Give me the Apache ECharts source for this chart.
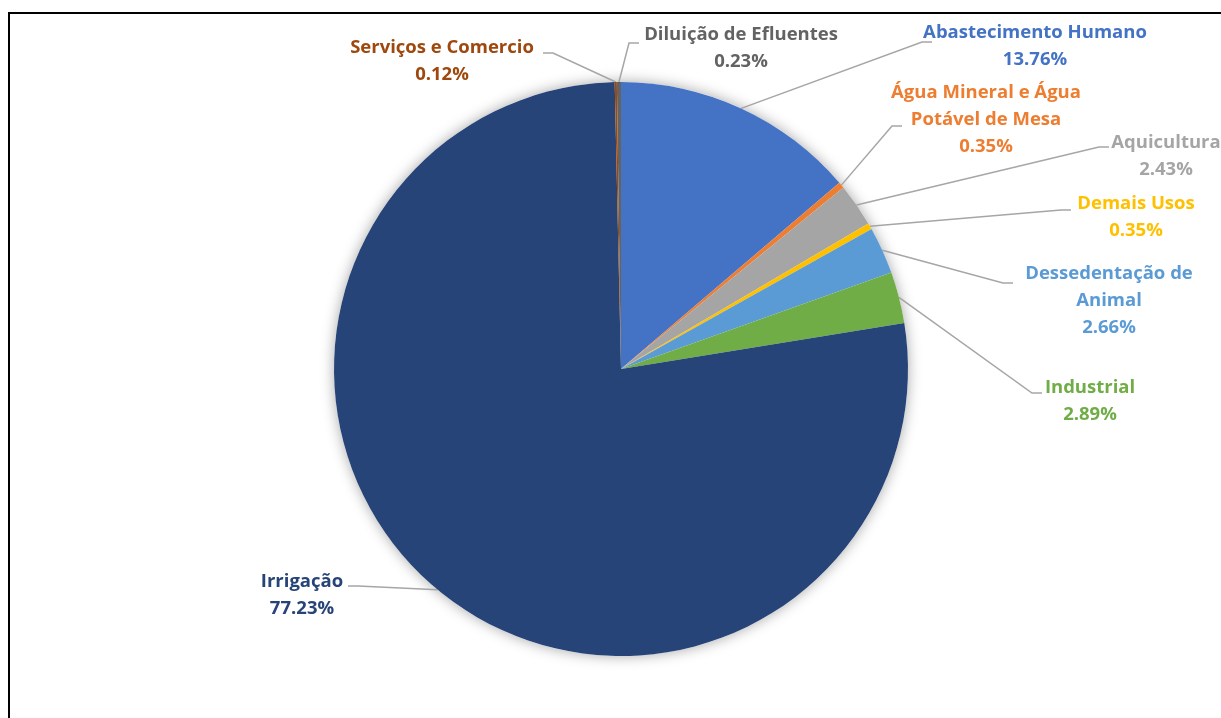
<!DOCTYPE html>
<html>
<head>
<meta charset="utf-8">
<script src="https://cdn.jsdelivr.net/npm/echarts@6/dist/echarts.min.js"></script>
<style>
  html, body { margin: 0; padding: 0; background: #fff; }
  #chart { position: absolute; left: 0; top: 0; width: 1221px; height: 718px; }
  #frame { position: absolute; left: 8px; top: 12px; width: 1300px; height: 800px;
           border-left: 2px solid #000; border-top: 2px solid #000; pointer-events: none; }
</style>
</head>
<body>
<div id="chart"></div>
<div id="frame"></div>
<script>
// ---- data ----
const categories = [
  'Abastecimento Humano',
  'Água Mineral e Água\nPotável de Mesa',
  'Aquicultura',
  'Demais Usos',
  'Dessedentação de\nAnimal',
  'Industrial',
  'Irrigação',
  'Serviços e Comercio',
  'Diluição de Efluentes'
];
const values = [13.76, 0.35, 2.43, 0.35, 2.66, 2.89, 77.23, 0.12, 0.23];
const colors = ['#4472C4', '#ED7D31', '#A5A5A5', '#FFC000', '#5B9BD5', '#70AD47', '#264478', '#9E480E', '#636363'];

// ---- label placement (text block centre, leader end point, side) ----
const labelPlace = [
  { cx: 1035, cy: 46,  ex: 932,  ey: 42,  side: 1 },
  { cx: 986,  cy: 120, ex: 902,  ey: 126, side: 1 },
  { cx: 1166, cy: 156, ex: 1109, ey: 147, side: 1 },
  { cx: 1136, cy: 217, ex: 1071, ey: 210, side: 1 },
  { cx: 1109, cy: 301, ex: 1013, ey: 283, side: 1 },
  { cx: 1090, cy: 401, ex: 1042, ey: 393, side: 1 },
  { cx: 302,  cy: 595, ex: 348,  ey: 586, side: -1 },
  { cx: 442,  cy: 61,  ex: 543,  ey: 53,  side: -1 },
  { cx: 741,  cy: 48,  ex: 639,  ey: 43,  side: 1 }
];

const chart = echarts.init(document.getElementById('chart'), null, { renderer: 'canvas' });

const pieData = categories.map((name, i) => ({
  name: name,
  value: values[i],
  itemStyle: { color: colors[i] },
  label: { color: colors[i] }
}));

const option = {
  backgroundColor: '#ffffff',
  animation: false,
  series: [
    {
      // soft drop shadow under the whole pie
      type: 'pie',
      silent: true,
      center: [621, 369],
      radius: 287,
      z: 1,
      label: { show: false },
      labelLine: { show: false },
      itemStyle: { color: '#ffffff', shadowBlur: 14, shadowColor: 'rgba(0,0,0,0.35)', borderWidth: 0 },
      data: [{ value: 1, name: '' }],
      tooltip: { show: false }
    },
    {
      type: 'pie',
      center: [621, 369],
      radius: 287,
      z: 2,
      startAngle: 90,
      clockwise: true,
      avoidLabelOverlap: false,
      itemStyle: { borderWidth: 0 },
      label: {
        show: true,
        position: 'outside',
        fontFamily: 'Open Sans',
        fontWeight: 'bold',
        fontSize: 18.5,
        lineHeight: 27,
        align: 'center',
        formatter: p => p.name + '\n' + p.value.toFixed(2) + '%'
      },
      labelLine: {
        show: true,
        lineStyle: { color: '#A6A6A6', width: 1.5 }
      },
      labelLayout: function (params) {
        const lp = labelPlace[params.dataIndex];
        const start = params.labelLinePoints ? params.labelLinePoints[0] : [lp.ex, lp.ey];
        const knee = [lp.ex - lp.side * 10, lp.ey];
        return {
          x: lp.cx,
          y: lp.cy,
          align: 'center',
          verticalAlign: 'middle',
          labelLinePoints: [start, knee, [lp.ex, lp.ey]]
        };
      },
      data: pieData
    }
  ]
};
chart.setOption(option);
</script>
</body>
</html>
